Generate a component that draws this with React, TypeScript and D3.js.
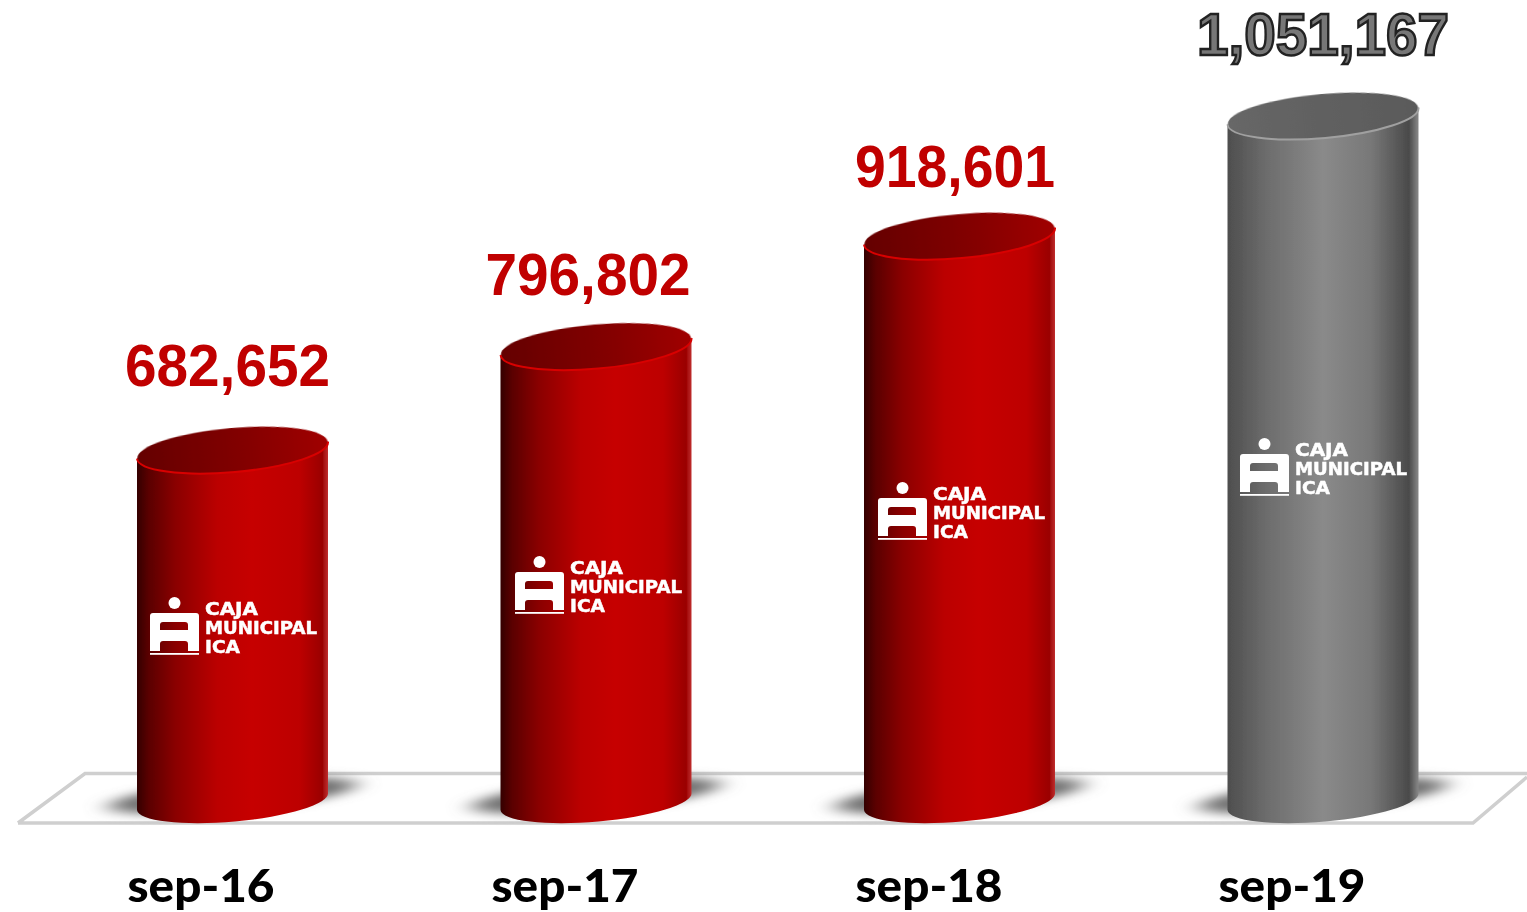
import React from "react";
import * as d3 from "d3";

const categories = ["sep-16", "sep-17", "sep-18", "sep-19"];
const values = [682652, 796802, 918601, 1051167];
const valueLabels = ["682,652", "796,802", "918,601", "1,051,167"];
const highlight = [false, false, false, true];

// layout of the annotations, kept apart from the values
const logoLefts = [150, 515, 878, 1240];
const logoTops = [597, 556, 482, 438];
const labelCenters = [227.5, 588, 955, 1323];
const labelBaselines = [386, 295, 187, 55];
const labelWidths = [205, 205, 200, 252];
const categoryCenters = [201, 565, 929, 1292];

const W = 1527, H = 912;
const BOTTOM_Y = 801.5;
const RX = 95.5, TOP_RY = 22, BOT_RY = 20, TILT = -5, DY = 8.5;
const x = d3.scalePoint<string>().domain(categories).range([232.5, 1323]);
const y = d3.scaleLinear().domain([295000, 1051167]).range([BOTTOM_Y, 116]);

const NUM = "'Liberation Sans', Arial, sans-serif";
const CAT = "Lato, 'Open Sans', sans-serif";

function Logo({ l, t }: { l: number; t: number }) {
  const icon =
    `M${l + 3},${t + 16} h43 q3,0 3,3 v35 h-11 v-7 q0,-3 -3,-3 h-22 q-3,0 -3,3 v7 h-10 v-35 q0,-3 3,-3 Z ` +
    `M${l + 13},${t + 25} q-3,0 -3,3 v5 h28 v-5 q0,-3 -3,-3 Z`;
  return (
    <g fill="#fff" filter="url(#soft)">
      <circle cx={l + 24.5} cy={t + 6} r={6} />
      <path d={icon} fillRule="evenodd" />
      <rect x={l} y={t + 56} width={49} height={1.8} />
      <g fontFamily="'DejaVu Sans', sans-serif" fontWeight={700} fontSize={17.5} stroke="#fff" strokeWidth={0.5}>
        <text x={l + 55} y={t + 18} textLength={53} lengthAdjust="spacingAndGlyphs">CAJA</text>
        <text x={l + 55} y={t + 37} textLength={112} lengthAdjust="spacingAndGlyphs">MUNICIPAL</text>
        <text x={l + 55} y={t + 56} textLength={35} lengthAdjust="spacingAndGlyphs">ICA</text>
      </g>
    </g>
  );
}

export default function App() {
  return (
    <svg width={W} height={H} viewBox={`0 0 ${W} ${H}`} style={{ position: "absolute", left: 0, top: 0, display: "block", background: "#fff" }}>
      <defs>
        <filter id="soft" x="-5%" y="-5%" width="110%" height="110%"><feGaussianBlur stdDeviation="0.55" /></filter>
        <filter id="shadow" x="-30%" y="-150%" width="160%" height="400%"><feGaussianBlur stdDeviation="12 5" /></filter>
        <linearGradient id="redBody">
          <stop offset="0" stopColor="#340000" />
          <stop offset="0.06" stopColor="#5a0000" />
          <stop offset="0.2" stopColor="#8a0000" />
          <stop offset="0.42" stopColor="#bb0000" />
          <stop offset="0.6" stopColor="#c60000" />
          <stop offset="0.85" stopColor="#bd0000" />
          <stop offset="0.97" stopColor="#9a0000" />
          <stop offset="1" stopColor="#c03030" />
        </linearGradient>
        <linearGradient id="redTop">
          <stop offset="0" stopColor="#640000" />
          <stop offset="0.6" stopColor="#850000" />
          <stop offset="1" stopColor="#a00000" />
        </linearGradient>
        <linearGradient id="grayBody">
          <stop offset="0" stopColor="#4e4e4e" />
          <stop offset="0.2" stopColor="#6c6c6c" />
          <stop offset="0.5" stopColor="#8a8a8a" />
          <stop offset="0.75" stopColor="#787878" />
          <stop offset="0.95" stopColor="#4a4a4a" />
          <stop offset="1" stopColor="#888" />
        </linearGradient>
        <linearGradient id="grayTop">
          <stop offset="0" stopColor="#676767" />
          <stop offset="1" stopColor="#5a5a5a" />
        </linearGradient>
      </defs>

      <path d="M18,823 L85,773.5 L1527,773.5 M1527,777 L1473,823 L18,823" fill="none" stroke="#cfcfcf" strokeWidth={3.5} filter="url(#soft)" />

      {categories.map((c, i) => {
        const cx = x(c)!;
        const yT = y(values[i]);
        const L = cx - RX, R = cx + RX;
        const gray = highlight[i];
        const body = `M${L},${yT + DY} L${L},${BOTTOM_Y + DY} A${RX},${BOT_RY} ${TILT} 0 0 ${R},${BOTTOM_Y - DY} L${R},${yT - DY} Z`;
        const rim = `M${L},${yT + DY} A${RX},${TOP_RY} ${TILT} 0 0 ${R},${yT - DY}`;
        return (
          <g key={c}>
            <ellipse cx={cx} cy={BOTTOM_Y - 6} rx={124} ry={15} transform={`rotate(${TILT} ${cx} ${BOTTOM_Y - 6})`} fill="#707070" filter="url(#shadow)" />
            <path d={body} fill={gray ? "url(#grayBody)" : "url(#redBody)"} filter="url(#soft)" />
            <ellipse cx={cx} cy={yT} rx={RX} ry={TOP_RY} transform={`rotate(${TILT} ${cx} ${yT})`}
              fill={gray ? "url(#grayTop)" : "url(#redTop)"} filter="url(#soft)" />
            <path d={rim} fill="none" stroke={gray ? "#a0a0a0" : "#d80000"} strokeWidth={2} filter="url(#soft)" />
            <Logo l={logoLefts[i]} t={logoTops[i]} />
            <text x={labelCenters[i]} y={labelBaselines[i]} textAnchor="middle" fontFamily={NUM} fontWeight={700} fontSize={60}
              textLength={labelWidths[i]} lengthAdjust="spacingAndGlyphs"
              fill={gray ? "#777" : "#c00000"} stroke={gray ? "#222" : "none"} strokeWidth={gray ? 2.5 : 0} filter="url(#soft)">
              {valueLabels[i]}
            </text>
            <text x={categoryCenters[i]} y={902} textAnchor="middle" fontFamily={CAT} fontWeight={900} fontSize={46} fill="#000"
              textLength={147} lengthAdjust="spacingAndGlyphs" filter="url(#soft)">
              {c}
            </text>
          </g>
        );
      })}
    </svg>
  );
}
